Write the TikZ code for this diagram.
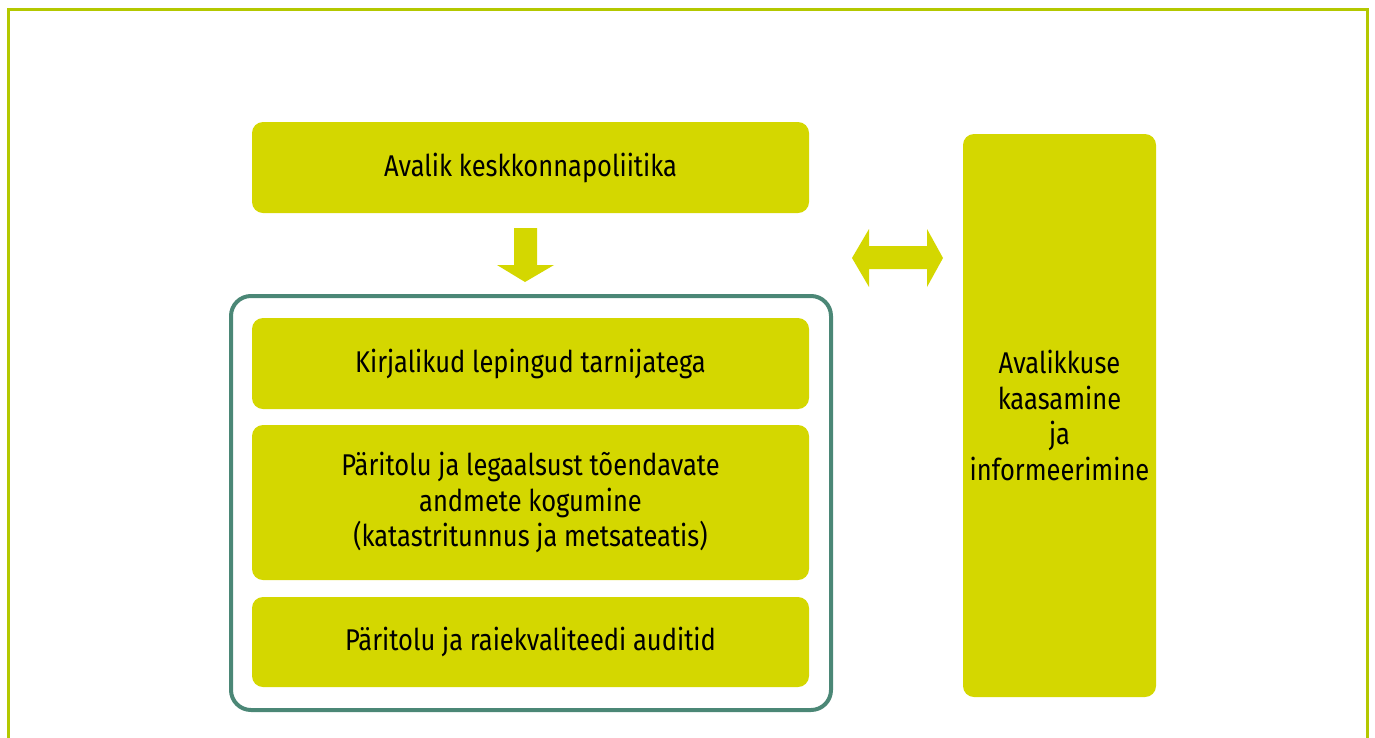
\documentclass[tikz,border=0pt]{standalone}
\usepackage{fontspec}
\setmainfont[FakeStretch=0.85]{Fira Sans}
\definecolor{boxfill}{HTML}{D4D700}
\definecolor{framegreen}{HTML}{B4C800}
\definecolor{teal}{HTML}{4B8776}
\begin{document}
\begin{tikzpicture}[x=1pt,y=-1pt,
  box/.style={fill=boxfill,rounded corners=11pt,inner sep=0pt,align=center,
    font=\fontsize{30}{35.5}\selectfont},
  arr/.style={fill=boxfill}]
\useasboundingbox (0,0) rectangle (1375,737);
\begin{scope}
\clip (0,0) rectangle (1375,737);
\draw[framegreen,line width=3pt] (8,760) -- (8,9.5) -- (1367.5,9.5) -- (1367.5,760);
\end{scope}
% top box
\node[box,minimum width=557pt,minimum height=91pt] (pol) at (530.5,167.5) {Avalik keskkonnapoliitika};
% frame
\draw[teal,line width=4pt,rounded corners=20pt] (231,296) rectangle (831,710);
\node[box,minimum width=557pt,minimum height=91pt] (b1) at (530.5,363.5) {Kirjalikud lepingud tarnijatega};
\node[box,minimum width=557pt,minimum height=155pt] (b2) at (530.5,502.5) {Päritolu ja legaalsust tõendavate\\andmete kogumine\\(katastritunnus ja metsateatis)};
\node[box,minimum width=557pt,minimum height=90pt] (b3) at (530.5,642) {Päritolu ja raiekvaliteedi auditid};
% right box
\node[box,minimum width=193pt,minimum height=563pt] (pub) at (1059.5,415.5) {Avalikkuse\\kaasamine\\ja\\informeerimine};
% down arrow
\fill[boxfill] (514,228) -- (537,228) -- (537,265) -- (554,265) -- (525,282) -- (497,265) -- (514,265) -- cycle;
% double arrow
\fill[boxfill] (852,258) -- (869,229) -- (869,246) -- (927,246) -- (927,229) -- (943,258) -- (927,287) -- (927,269) -- (869,269) -- (869,287) -- cycle;
\end{tikzpicture}
\end{document}
